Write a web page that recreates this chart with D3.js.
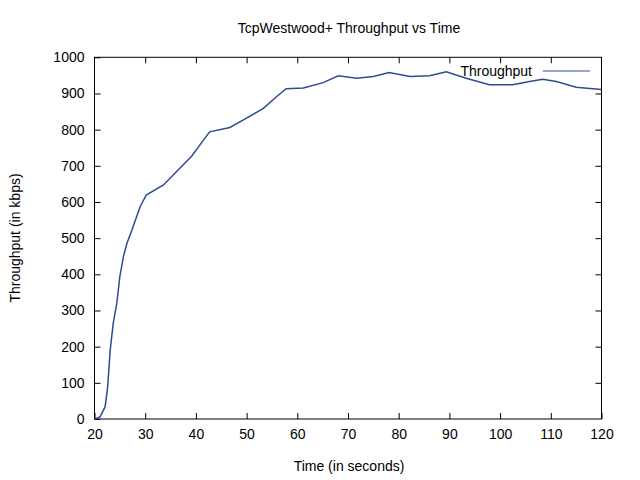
<!DOCTYPE html>
<html><head><meta charset="utf-8">
<script src="https://cdn.jsdelivr.net/npm/d3@7"></script>
<style>body{margin:0;background:#fff}text{font-family:"Liberation Sans",Arial,sans-serif;fill:#000}</style>
</head><body><svg width="640" height="480"></svg>
<script>
const times=[20,21.1,22.1,22.6,23.1,23.7,24.4,25.0,25.7,26.4,27.4,29.0,30.2,33.6,36.2,39.2,40.8,42.7,46.7,49.9,53.3,55.9,57.8,61.2,65.1,68.1,71.7,75.0,78.1,82.2,86.1,89.4,93.3,97.9,102.5,105.8,108.4,111.1,115,120];
const throughput=[0,6,34,89,191,265,320,394,449,486,523,587,619,647,684,727,758,794,806,831,859,891,913,915,930,949,942,947,958,947,949,960,942,924,924,933,939,933,917,911];
const xTicks=[20,30,40,50,60,70,80,90,100,110,120];
const yTicks=[0,100,200,300,400,500,600,700,800,900,1000];

const svg=d3.select('svg');
const L=94.5,R=601.5,T=57.3,B=419;
const x=d3.scaleLinear().domain([20,120]).range([L,R]);
const y=d3.scaleLinear().domain([0,1000]).range([B,T]);

// ticks on all four sides, gnuplot style
svg.append('g').attr('transform',`translate(0,${B})`)
  .call(d3.axisBottom(x).tickValues(xTicks).tickSize(-6).tickPadding(10).tickFormat(d3.format('d')))
  .call(g=>g.select('.domain').remove());
svg.append('g').attr('transform',`translate(0,${T})`)
  .call(d3.axisTop(x).tickValues(xTicks.slice(1,-1)).tickSize(-6).tickFormat(''))
  .call(g=>g.select('.domain').remove());
svg.append('g').attr('transform',`translate(${L},0)`)
  .call(d3.axisLeft(y).tickValues(yTicks).tickSize(-6).tickPadding(10).tickFormat(d3.format('d')))
  .call(g=>g.select('.domain').remove());
svg.append('g').attr('transform',`translate(${R},0)`)
  .call(d3.axisRight(y).tickValues(yTicks.slice(1,-1)).tickSize(-6).tickFormat(''))
  .call(g=>g.select('.domain').remove());
svg.selectAll('.tick text').style('font-size','14px');
svg.selectAll('.tick line').attr('stroke','#000');

svg.append('rect').attr('x',L).attr('y',T).attr('width',R-L).attr('height',B-T)
  .attr('fill','none').attr('stroke','#000');

const line=d3.line().x((d,i)=>x(times[i])).y(d=>y(d));
svg.append('path').datum(throughput).attr('d',line)
  .attr('fill','none').attr('stroke','#2f4b8f').attr('stroke-width',1.5);

// legend
svg.append('text').attr('x',532).attr('y',76).attr('text-anchor','end').style('font-size','14px').text('Throughput');
svg.append('line').attr('x1',543).attr('x2',590).attr('y1',71).attr('y2',71).attr('stroke','#2f4b8f').attr('stroke-width',1);

svg.append('text').attr('x',349).attr('y',33).attr('text-anchor','middle').style('font-size','14px').text('TcpWestwood+ Throughput vs Time');
svg.append('text').attr('x',349).attr('y',471).attr('text-anchor','middle').style('font-size','14px').text('Time (in seconds)');
svg.append('text').attr('transform','translate(20,238) rotate(-90)').attr('text-anchor','middle').style('font-size','14px').text('Throughput (in kbps)');
</script></body></html>
